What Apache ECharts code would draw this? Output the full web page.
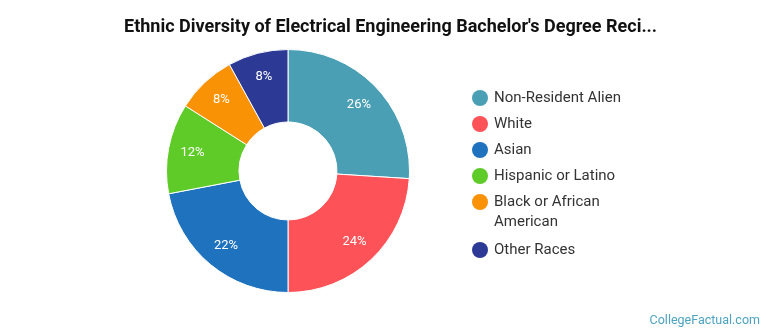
<!DOCTYPE html>
<html>
<head>
<meta charset="utf-8">
<style>
  html, body { margin: 0; padding: 0; background: #fff; }
  #chart { width: 770px; height: 335px; }
</style>
<script src="https://cdn.jsdelivr.net/npm/echarts@6/dist/echarts.min.js"></script>
</head>
<body>
<div id="chart"></div>
<script>
// Degree recipients by ethnicity (percent of total)
const categories = ['Non-Resident Alien', 'White', 'Asian', 'Hispanic or Latino', 'Black or African American', 'Other Races'];
const legendLines = [['Non-Resident Alien'], ['White'], ['Asian'], ['Hispanic or Latino'], ['Black or African', 'American'], ['Other Races']];
const values = [26, 24, 22, 12, 8, 8];
const colors = ['#4a9fb5', '#fc5258', '#1f72bd', '#5fcb28', '#fa9205', '#2d3a95'];

const titleText = "Ethnic Diversity of Electrical Engineering Bachelor's Degree Reci...";
const sourceText = 'CollegeFactual.com';

const FONT = 'Roboto, "Noto Sans", sans-serif';

const chart = echarts.init(document.getElementById('chart'), null, { renderer: 'canvas' });

const pieData = categories.map((name, i) => ({ name, value: values[i], itemStyle: { color: colors[i] } }));

// rich styles: a coloured dot per category, text, and an indent for wrapped lines
const rich = {
  t: { fontSize: 15, fontFamily: FONT, color: '#333', lineHeight: 20, padding: [0, 0, 0, 6] },
  ind: { width: 16, height: 20, lineHeight: 20 }
};
colors.forEach((c, i) => {
  rich['d' + i] = { width: 16, height: 16, borderRadius: 8, backgroundColor: c, lineHeight: 20 };
});

chart.setOption({
  animation: false,
  backgroundColor: '#fff',
  title: [
    {
      text: titleText,
      left: 119,
      top: 13,
      textStyle: { fontSize: 18, fontWeight: 'bold', color: '#111', fontFamily: FONT }
    },
    {
      text: sourceText,
      right: 5,
      bottom: 3,
      textStyle: { fontSize: 12.5, fontWeight: 'normal', color: '#4da3c0', fontFamily: FONT }
    }
  ],
  legend: {
    orient: 'vertical',
    left: 466,
    top: 90,
    padding: 0,
    itemGap: 10,
    icon: 'none',
    itemWidth: 1,
    itemHeight: 1,
    selectedMode: false,
    data: categories,
    formatter: (name) => {
      const i = categories.indexOf(name);
      const lines = legendLines[i];
      let s = '{d' + i + '|}{t|' + lines[0] + '}';
      for (let k = 1; k < lines.length; k++) {
        s += '\n{ind|}{t|' + lines[k] + '}';
      }
      return s;
    },
    textStyle: { fontSize: 15, fontFamily: FONT, color: '#333', rich }
  },
  series: [
    {
      type: 'pie',
      center: [288, 171],
      radius: [49, 121.5],
      startAngle: 90,
      clockwise: true,
      silent: true,
      itemStyle: { borderColor: '#fff', borderWidth: 1 },
      label: { show: false },
      labelLine: { show: false },
      data: pieData
    },
    {
      // transparent ring carrying the percentage labels
      type: 'pie',
      center: [288, 171],
      radius: [67, 121.5],
      startAngle: 90,
      clockwise: true,
      silent: true,
      itemStyle: { color: 'rgba(0,0,0,0)' },
      label: {
        show: true,
        position: 'inside',
        formatter: '{c}%',
        color: '#fff',
        fontSize: 13,
        fontFamily: FONT
      },
      labelLine: { show: false },
      data: categories.map((name, i) => ({ name, value: values[i] }))
    }
  ]
});
</script>
</body>
</html>
